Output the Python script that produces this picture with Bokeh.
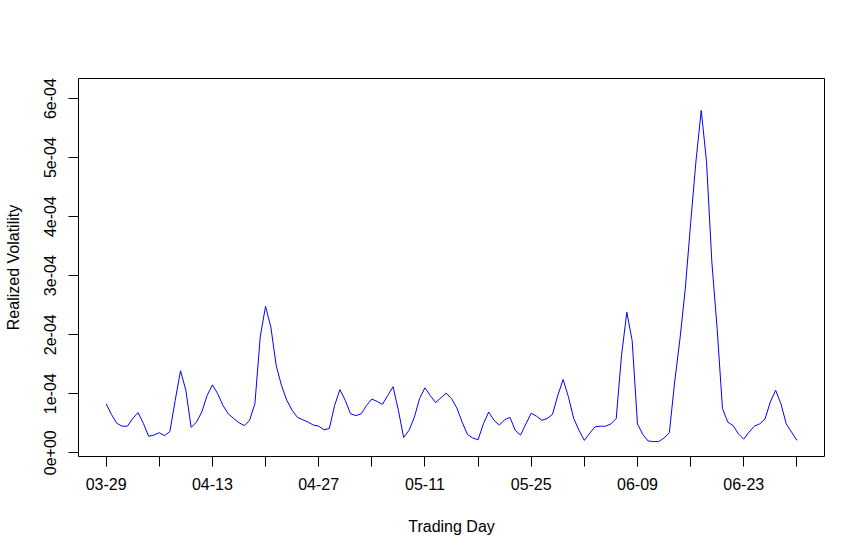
from bokeh.plotting import figure
from bokeh.models import Range1d, FixedTicker
from bokeh.embed import file_html
from bokeh.resources import INLINE

# trading-day position (in half-day steps) and realized volatility (x1e-4)
day = [0, 0.5, 1, 1.5, 2, 2.5, 3, 3.5, 4, 4.5, 5, 5.5, 6, 6.5, 7, 7.5, 8, 8.5, 9, 9.5,
       10, 10.5, 11, 11.5, 12, 12.5, 13, 13.5, 14, 14.5, 15, 15.5, 16, 16.5, 17, 17.5, 18, 18.5, 19, 19.5,
       20, 20.5, 21, 21.5, 22, 22.5, 23, 23.5, 24, 24.5, 25, 25.5, 26, 26.5, 27, 27.5, 28, 28.5, 29, 29.5,
       30, 30.5, 31, 31.5, 32, 32.5, 33, 33.5, 34, 34.5, 35, 35.5, 36, 36.5, 37, 37.5, 38, 38.5, 39, 39.5,
       40, 40.5, 41, 41.5, 42, 42.5, 43, 43.5, 44, 44.5, 45, 45.5, 46, 46.5, 47, 47.5, 48, 48.5, 49, 49.5,
       50, 50.5, 51, 51.5, 52, 52.5, 53, 53.5, 54, 54.5, 55, 55.5, 56, 56.5, 57, 57.5, 58, 58.5, 59, 59.5,
       60, 60.5, 61, 61.5, 62, 62.5, 63, 63.5, 64, 64.5, 65]
vol_e4 = [0.83, 0.65, 0.50, 0.45, 0.45, 0.58, 0.68, 0.50, 0.28, 0.30, 0.34, 0.29, 0.36, 0.89, 1.39, 1.06, 0.43, 0.52, 0.69, 0.97,
          1.15, 1.00, 0.80, 0.66, 0.58, 0.51, 0.46, 0.55, 0.83, 1.96, 2.48, 2.13, 1.48, 1.14, 0.89, 0.72, 0.60, 0.56, 0.52, 0.47,
          0.45, 0.39, 0.41, 0.80, 1.07, 0.89, 0.66, 0.63, 0.66, 0.80, 0.91, 0.87, 0.82, 0.97, 1.12, 0.72, 0.26, 0.38, 0.60, 0.92,
          1.10, 0.97, 0.85, 0.93, 1.01, 0.92, 0.76, 0.52, 0.31, 0.25, 0.22, 0.49, 0.69, 0.55, 0.47, 0.56, 0.60, 0.38, 0.30, 0.49,
          0.67, 0.62, 0.55, 0.58, 0.65, 0.97, 1.24, 0.95, 0.58, 0.38, 0.21, 0.33, 0.44, 0.45, 0.45, 0.49, 0.58, 1.65, 2.38, 1.90,
          0.49, 0.31, 0.20, 0.19, 0.19, 0.25, 0.34, 1.20, 1.93, 2.78, 3.88, 4.93, 5.80, 4.93, 3.23, 2.10, 0.75, 0.52, 0.46, 0.32,
          0.23, 0.35, 0.45, 0.49, 0.57, 0.86, 1.06, 0.83, 0.49, 0.35, 0.21]
vol = [v * 1e-4 for v in vol_e4]

x_ticks = [0, 5, 10, 15, 20, 25, 30, 35, 40, 45, 50, 55, 60, 65]
x_labels = ["03-29", "", "04-13", "", "04-27", "", "05-11", "", "05-25", "", "06-09", "", "06-23", ""]
y_ticks = [0, 1e-4, 2e-4, 3e-4, 4e-4, 5e-4, 6e-4]
y_labels = ["0e+00", "1e-04", "2e-04", "3e-04", "4e-04", "5e-04", "6e-04"]

FONT = "Liberation Sans"

p = figure(width=849, height=538, output_backend="svg", toolbar_location=None,
           x_range=Range1d(-2.6, 67.6), y_range=Range1d(-0.063e-4, 6.34e-4),
           min_border_left=78, min_border_right=25, min_border_top=78, min_border_bottom=82)
p.background_fill_color = "white"
p.border_fill_color = "white"
p.outline_line_color = "black"
p.outline_line_width = 1
p.grid.visible = False

p.line(day, vol, line_color="#0000FF", line_width=1)

xa = p.xaxis[0]
xa.ticker = FixedTicker(ticks=x_ticks)
xa.major_label_overrides = {t: l for t, l in zip(x_ticks, x_labels)}
xa.axis_label = "Trading Day"

ya = p.yaxis[0]
ya.ticker = FixedTicker(ticks=y_ticks)
ya.major_label_overrides = {t: l for t, l in zip(y_ticks, y_labels)}
ya.major_label_orientation = "vertical"
ya.axis_label = "Realized Volatility"

for ax in (xa, ya):
    ax.axis_line_color = None
    ax.minor_tick_line_color = None
    ax.major_tick_line_color = "black"
    ax.major_tick_out = 10
    ax.major_tick_in = 0
    ax.major_label_text_font = FONT
    ax.major_label_text_font_size = "16px"
    ax.major_label_text_color = "black"
    ax.axis_label_text_font = FONT
    ax.axis_label_text_font_size = "16px"
    ax.axis_label_text_font_style = "normal"
    ax.axis_label_text_color = "black"

xa.major_label_standoff = 11
xa.axis_label_standoff = 25
ya.major_label_standoff = 12
ya.axis_label_standoff = 20

open("out.html", "w").write(file_html(p, INLINE))
